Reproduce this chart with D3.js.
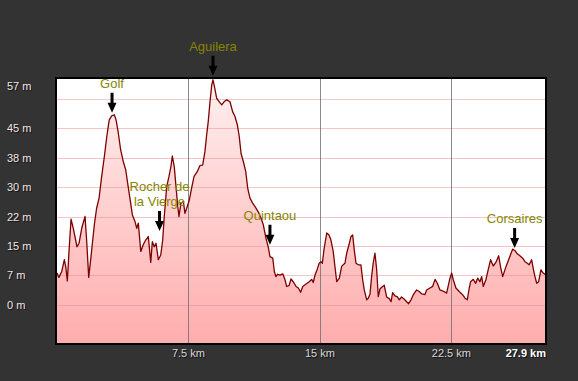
<!DOCTYPE html>
<html><head><meta charset="utf-8">
<script src="https://cdn.jsdelivr.net/npm/d3@7"></script>
<style>html,body{margin:0;padding:0;background:#333333;}svg{display:block}</style>
</head><body>
<svg id="chart" width="578" height="381"></svg>
<script>
// ---- data ----
const distances = [0,0.11,0.27,0.42,0.51,0.59,0.68,0.80,0.93,1.14,
1.26,1.41,1.60,1.69,1.81,1.94,2.13,2.26,2.40,2.55,
2.70,2.84,2.98,3.12,3.27,3.37,3.50,3.63,3.78,3.92,
4.03,4.16,4.30,4.45,4.55,4.64,4.78,4.92,5.06,5.21,
5.35,5.44,5.55,5.65,5.78,5.92,6.03,6.12,6.26,6.39,
6.50,6.58,6.69,6.79,6.89,6.96,7.07,7.21,7.30,7.40,
7.55,7.68,7.82,8.00,8.16,8.31,8.44,8.54,8.63,8.73,
8.83,8.90,9.00,9.11,9.26,9.40,9.53,9.68,9.87,10.02,
10.16,10.29,10.40,10.50,10.63,10.77,10.88,11.01,11.16,11.30,
11.48,11.64,11.77,11.92,12.05,12.15,12.31,12.40,12.49,12.59,
12.72,12.88,13.01,13.10,13.24,13.35,13.48,13.64,13.77,13.90,
14.02,14.21,14.39,14.53,14.62,14.72,14.85,14.96,15.06,15.14,
15.23,15.39,15.52,15.63,15.76,15.88,15.96,16.11,16.24,16.33,
16.43,16.53,16.66,16.77,16.87,16.96,17.06,17.19,17.34,17.44,
17.53,17.67,17.76,17.86,17.95,18.04,18.14,18.24,18.33,18.43,
18.58,18.67,18.81,18.96,19.06,19.15,19.28,19.41,19.53,19.66,
19.80,19.95,20.06,20.20,20.33,20.52,20.67,20.82,20.99,21.09,
21.28,21.43,21.57,21.70,21.85,22.08,22.23,22.42,22.52,22.61,
22.76,22.95,23.14,23.28,23.41,23.52,23.60,23.75,23.89,24.00,
24.13,24.23,24.32,24.47,24.60,24.74,24.89,25.04,25.20,25.31,
25.43,25.62,25.80,26.00,26.13,26.26,26.41,26.57,26.70,26.83,
26.94,27.08,27.17,27.27,27.37,27.48,27.61,27.74,27.90];
const elevations = [8.1,7.0,8.5,11.5,9.4,6.1,13.2,21.8,19.5,14.8,
15.7,19.5,22.5,16.5,7.0,12.3,20.4,24.6,27.2,32.7,
37.7,42.8,47.1,48.1,48.4,47.1,43.7,39.5,36.5,34.4,
31.0,27.2,22.9,21.2,19.5,20.8,13.6,15.3,16.5,17.4,
10.8,16.1,14.8,15.7,11.5,12.7,16.5,22.5,30.1,32.7,
35.2,37.9,35.2,30.1,25.0,22.5,25.9,26.3,23.3,24.6,
26.7,29.7,32.7,33.9,35.5,35.6,39.0,43.3,46.7,51.7,
56.0,57.3,55.2,52.6,51.7,50.9,51.7,52.2,51.7,49.2,
47.9,45.8,42.8,38.6,36.5,33.9,29.7,27.2,25.9,25.0,
23.7,22.1,20.4,17.0,14.8,12.3,11.9,8.5,7.2,7.8,
7.6,7.9,6.4,4.7,4.9,6.6,5.9,4.7,4.3,3.2,
4.7,5.3,5.9,6.5,5.7,7.6,9.1,10.6,11.0,10.6,
14.0,18.3,17.8,16.5,13.6,8.9,5.9,6.8,9.8,10.2,
10.6,13.2,15.3,17.4,17.8,14.0,10.6,10.2,10.2,6.4,
3.8,1.3,1.7,2.8,7.2,10.6,13.2,8.9,2.1,4.1,
4.7,5.0,2.0,1.6,0.8,3.1,2.3,2.1,1.3,2.0,
1.5,0.8,0.3,1.3,2.6,3.8,3.4,2.8,2.6,3.8,
4.3,4.7,6.5,5.5,3.8,3.4,3.0,6.8,8.1,6.4,
4.3,3.4,2.6,1.7,1.3,4.3,5.9,6.5,5.5,6.8,
5.9,7.2,4.7,6.4,8.9,11.5,9.9,10.8,12.5,9.6,
7.2,9.8,11.9,14.2,13.8,13.0,12.5,11.9,11.0,10.6,
10.2,11.5,9.3,7.2,5.5,5.9,8.9,8.1,7.6];

const yGridValues = [0, 7.5, 15, 22.5, 30, 37.5, 45, 52.5];
const yTickValues = [0, 7.5, 15, 22.5, 30, 37.5, 45];
const yTickLabels = ["0 m", "7 m", "15 m", "22 m", "30 m", "38 m", "45 m"];
const maxElevation = 57.3;
const maxLabel = "57 m";
const xTickValues = [7.5, 15, 22.5];
const xTickLabels = ["7.5 km", "15 km", "22.5 km"];
const totalDistance = 27.9;
const endLabel = "27.9 km";
const annotationNames = [["Golf"], ["Aguilera"], ["Rocher de", "la Vierge"], ["Quintaou"], ["Corsaires"]];
const annotationKm = [3.14, 8.90, 5.85, 12.15, 26.11];
const annotationElev = [48.9, 58.3, 18.8, 15.3, 14.5];

// ---- layout ----
const W = 578, H = 381;
const L = 57, R = 546, T = 79, B = 343;
const svg = d3.select("#chart");
const defs = svg.append("defs");

const x = d3.scaleLinear().domain([0, totalDistance]).range([L, R]);
const y = d3.scaleLinear().domain([-9.7, 57.5]).range([B, T]);

svg.append("rect").attr("width", W).attr("height", H).attr("fill", "#333333");
svg.append("rect").attr("x", L).attr("y", T).attr("width", R - L).attr("height", B - T).attr("fill", "#ffffff");

const grad = defs.append("linearGradient").attr("id", "fillGrad")
  .attr("gradientUnits", "userSpaceOnUse").attr("x1", 0).attr("x2", 0).attr("y1", T).attr("y2", B);
grad.append("stop").attr("offset", 0).attr("stop-color", "#fff0f0");
grad.append("stop").attr("offset", 1).attr("stop-color", "#ffadad");

defs.append("clipPath").attr("id", "plotClip").append("rect")
  .attr("x", L).attr("y", T).attr("width", R - L).attr("height", B - T);
defs.append("clipPath").attr("id", "annClip").append("rect")
  .attr("x", 0).attr("y", 0).attr("width", 543.5).attr("height", H);

const pts = distances.map((d, i) => [d, elevations[i]]);
const plot = svg.append("g").attr("clip-path", "url(#plotClip)");

plot.append("path").datum(pts)
  .attr("d", d3.area().x(d => x(d[0])).y0(B).y1(d => y(d[1])))
  .attr("fill", "url(#fillGrad)");

plot.selectAll("line.hg").data(yGridValues).join("line").attr("class", "hg")
  .attr("x1", L).attr("x2", R).attr("y1", d => Math.round(y(d)) + 0.5).attr("y2", d => Math.round(y(d)) + 0.5)
  .attr("stroke", "rgba(232,140,140,0.5)").attr("stroke-width", 1);
plot.selectAll("line.vg").data(xTickValues).join("line").attr("class", "vg")
  .attr("y1", T).attr("y2", B).attr("x1", d => Math.round(x(d)) + 0.5).attr("x2", d => Math.round(x(d)) + 0.5)
  .attr("stroke", "rgba(110,110,110,0.8)").attr("stroke-width", 1);

plot.append("path").datum(pts)
  .attr("d", d3.line().x(d => x(d[0])).y(d => y(d[1])))
  .attr("fill", "none").attr("stroke", "#7d0000").attr("stroke-width", 1.3).attr("stroke-linejoin", "round");

svg.append("rect").attr("x", L - 1).attr("y", T - 1).attr("width", R - L + 1).attr("height", B - T + 2)
  .attr("fill", "none").attr("stroke", "#000").attr("stroke-width", 2);

// ---- axis labels with shadow ----
function shadowText(g, xx, yy, txt, opts) {
  const anchor = opts.anchor || "start";
  g.append("text").attr("x", xx + 1).attr("y", yy + 1).text(txt)
    .attr("text-anchor", anchor).attr("font-family", "Liberation Sans, Arial, sans-serif")
    .attr("font-size", 11).attr("font-weight", opts.weight || "normal").attr("fill", "#111");
  g.append("text").attr("x", xx).attr("y", yy).text(txt)
    .attr("text-anchor", anchor).attr("font-family", "Liberation Sans, Arial, sans-serif")
    .attr("font-size", 11).attr("font-weight", opts.weight || "normal").attr("fill", opts.fill);
}
const labels = svg.append("g");
yTickValues.forEach((v, i) => shadowText(labels, 7, y(v) + 4, yTickLabels[i], { fill: "#f3e3e3" }));
shadowText(labels, 7, y(maxElevation) + 10.5, maxLabel, { fill: "#f3e3e3" });
xTickValues.forEach((v, i) => shadowText(labels, x(v), 357, xTickLabels[i], { fill: "#d8d8d8", anchor: "middle" }));
shadowText(labels, R, 357, endLabel, { fill: "#ffffff", anchor: "end", weight: "bold" });

// ---- annotations ----
const ann = svg.append("g").attr("clip-path", "url(#annClip)");
annotationNames.forEach((lines, i) => {
  const ax = x(annotationKm[i]);
  const tip = y(annotationElev[i]);
  const top = tip - 20;
  ann.append("path")
    .attr("d", `M${ax - 1.5},${top}L${ax + 1.5},${top}L${ax + 1.5},${tip - 10}L${ax + 4.5},${tip - 10}L${ax},${tip}L${ax - 4.5},${tip - 10}L${ax - 1.5},${tip - 10}Z`)
    .attr("fill", "#000");
  const n = lines.length;
  lines.forEach((ln, j) => {
    ann.append("text").attr("x", ax).attr("y", top - 5 - (n - 1 - j) * 15).text(ln)
      .attr("text-anchor", "middle").attr("font-family", "Liberation Sans, Arial, sans-serif")
      .attr("font-size", 13).attr("fill", "#858500");
  });
});
</script>
</body></html>
